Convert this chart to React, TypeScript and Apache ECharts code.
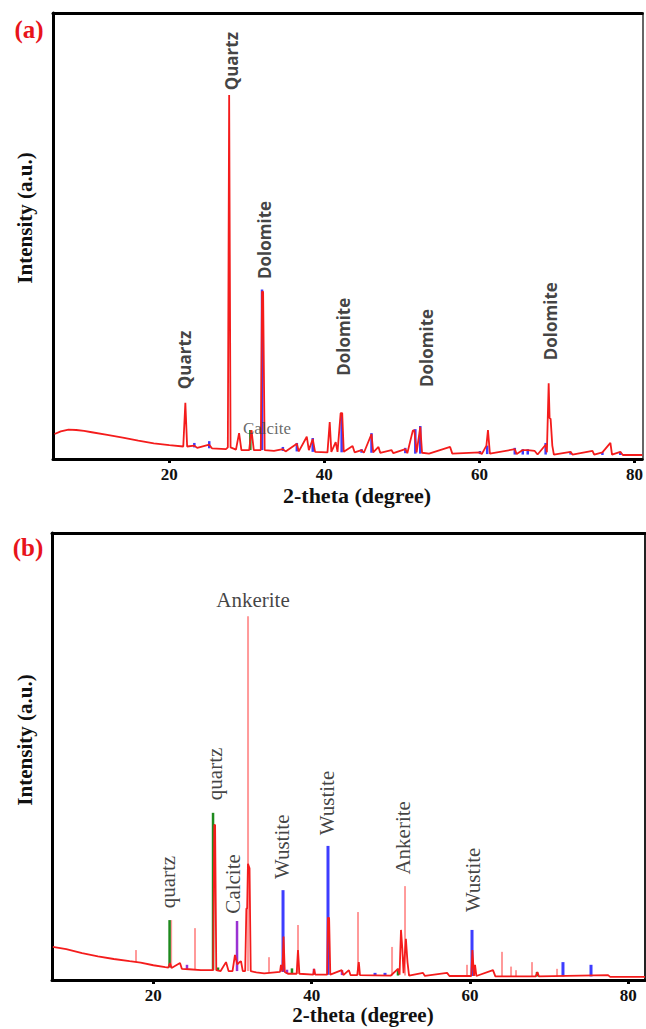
import React, { useEffect, useRef } from "react";
import * as echarts from "echarts";

// ---------- DATA ----------
const X_TICKS = [20, 40, 60, 80];

// Panel (a): measured pattern [2theta, intensity]
const curveA: number[][] = [
  [5.2, 5.6], [6, 6.2], [7, 6.6], [8, 6.5], [9, 6.3], [10, 6.0], [12, 5.4], [14, 4.8], [16, 4.1], [18, 3.5],
  [20, 3.1], [21.8, 2.8], [22.07, 12.6], [22.3, 2.8], [23.23, 3.0], [23.6, 2.5], [25.15, 3.2], [25.5, 2.4],
  [27.3, 2.2], [27.55, 2.6], [27.72, 81.6], [27.9, 2.6], [28.6, 2.1], [29.0, 5.8], [29.3, 2.0], [30.3, 2.0],
  [30.6, 6.5], [30.9, 2.0], [31.8, 2.0], [31.96, 37.5], [32.1, 37.5], [32.3, 2.0], [33.5, 1.8], [34.65, 2.2],
  [35, 1.7], [36.45, 3.4], [36.7, 1.7], [37.73, 5.0], [38.0, 2.0], [38.5, 4.5], [38.8, 1.6], [40.4, 1.5],
  [40.69, 8.3], [40.9, 1.6], [41.46, 3.8], [41.7, 1.6], [42.1, 10.3], [42.3, 10.3], [42.5, 1.6], [43.64, 2.9],
  [43.9, 1.5], [44.8, 2.0], [45.1, 1.4], [46.08, 5.6], [46.3, 1.5], [46.98, 2.7], [47.2, 1.4], [48.65, 2.0],
  [48.9, 1.3], [50.44, 2.2], [50.7, 1.3], [51.4, 6.3], [51.6, 6.5], [51.9, 1.5], [52.37, 7.2], [52.6, 1.4],
  [53.5, 1.2], [56.22, 2.7], [56.5, 1.2], [60.07, 1.5], [60.3, 1.1], [60.9, 3.0], [61.1, 6.5], [61.35, 1.2],
  [64.56, 2.2], [64.8, 1.1], [65.59, 2.0], [66.23, 2.0], [67.13, 1.8], [67.5, 1.0], [68.54, 3.2], [68.7, 1.5],
  [68.93, 17], [69.05, 9.2], [69.18, 9.0], [69.4, 3.0], [69.6, 1.0], [71.75, 1.6], [72, 1.0], [74.58, 1.8],
  [74.8, 1.0], [75.86, 1.5], [76.89, 3.6], [77.1, 1.0], [78.17, 1.6], [78.5, 0.9], [81, 0.9],
];
// Panel (a) reference sticks [2theta, base, top]
const blueSticksA: number[][] = [
  [23.23, 2.6, 3.6], [25.15, 2.4, 4.0], [31.96, 2.0, 38], [34.65, 1.8, 2.7], [36.45, 1.7, 3.6], [38.5, 1.6, 4.7],
  [42.23, 1.5, 10.3], [44.8, 1.4, 2.2], [46.08, 1.4, 5.8], [50.44, 1.3, 2.5], [51.73, 1.2, 6.7], [52.37, 1.2, 7.4],
  [60.07, 1.1, 1.8], [61.0, 1.1, 3.0], [64.56, 1.0, 2.5], [65.59, 1.0, 2.2], [66.23, 1.0, 2.2], [68.54, 1.0, 3.6],
  [71.75, 1.0, 1.6], [75.86, 0.9, 1.5], [78.17, 0.9, 1.6],
];
const greenSticksA: number[][] = [[30.45, 2.0, 6.5]];

// Panel (b): measured pattern
const curveB: number[][] = [
  [7.3, 7.4], [9, 6.9], [11, 6.0], [13, 5.3], [15, 4.7], [17, 4.2], [18.4, 3.9], [20, 3.3], [21.5, 2.9],
  [21.9, 2.8], [22.1, 3.8], [22.3, 2.7], [23.37, 3.8], [23.6, 2.5], [24.5, 2.4], [26, 2.2], [27.55, 2.2],
  [27.7, 34.7], [27.8, 34.7], [27.95, 2.2], [28.5, 2.0], [29.18, 4.0], [29.5, 2.0], [30.0, 2.0], [30.31, 5.6],
  [30.6, 3.5], [30.9, 4.0], [31.07, 4.2], [31.3, 2.0], [31.6, 2.0], [31.75, 16], [31.85, 16], [31.95, 26],
  [32.15, 25], [32.3, 2.0], [33, 1.7], [34, 1.5], [36.0, 1.8], [36.12, 3.4], [36.3, 1.9], [36.45, 9.7],
  [36.6, 1.8], [37, 1.4], [38.1, 1.4], [38.27, 6.7], [38.45, 1.4], [40.2, 1.2], [40.3, 2.5], [40.45, 1.2],
  [41.95, 1.2], [42.05, 13.9], [42.2, 13.9], [42.35, 1.2], [43.8, 2.2], [44, 1.1], [44.7, 2.2], [44.9, 1.1],
  [45.75, 1.1], [45.95, 4.0], [46.1, 1.1], [50, 1.0], [50.9, 2.5], [51.1, 1.2], [51.28, 11.2], [51.45, 7.0],
  [51.6, 1.5], [51.9, 9.2], [52.1, 4.0], [52.3, 1.0], [54.06, 1.6], [54.3, 0.9], [57.1, 1.6], [57.4, 0.9],
  [60.15, 0.9], [60.3, 6.7], [60.5, 0.9], [60.63, 3.4], [60.8, 0.9], [62.9, 2.2], [63.2, 0.8], [68.3, 0.8],
  [68.5, 1.8], [68.7, 0.8], [77.43, 1.1], [77.7, 0.7], [82.1, 0.7],
];
const pinkSticksB: number[][] = [
  [17.81, 4.0, 6.7], [22.25, 2.8, 13.4], [25.26, 2.3, 11.6], [31.96, 2.0, 81.4], [34.61, 1.6, 5.1],
  [38.27, 1.4, 12.3], [42.06, 1.2, 15.0], [45.85, 1.1, 15.2], [50.15, 1.0, 7.4], [51.79, 1.0, 21.0],
  [59.62, 0.9, 3.4], [64.04, 0.8, 6.3], [65.18, 0.8, 3.0], [65.81, 0.8, 2.2], [67.83, 0.8, 4.0], [70.99, 0.8, 2.5],
];
const greenSticksB: number[][] = [
  [22.05, 2.8, 13.4], [27.54, 2.2, 37.4], [28.17, 2.0, 2.8], [37.51, 1.4, 2.6], [50.9, 1.0, 2.5], [68.46, 0.8, 1.8],
];
const purpleSticksB: number[][] = [
  [24.25, 2.4, 3.4], [30.57, 2.0, 13.2], [36.88, 1.4, 2.3], [40.29, 1.2, 2.5], [43.83, 1.1, 2.2],
];
const blueSticksB: number[][] = [
  [36.38, 1.8, 20.1], [42.06, 1.2, 30.0], [48.0, 1.0, 1.6], [49.26, 1.0, 1.6], [60.25, 0.9, 11.2],
  [71.74, 0.8, 4.0], [75.28, 0.8, 3.4],
];

// Phase annotations [name, 2theta, intensity]
const labelsVertA = [
  { name: "Quartz", value: [27.98, 89.2] },
  { name: "Quartz", value: [21.94, 22.2] },
  { name: "Dolomite", value: [32.34, 49.1] },
  { name: "Dolomite", value: [42.48, 27.4] },
  { name: "Dolomite", value: [53.14, 24.9] },
  { name: "Dolomite", value: [69.19, 30.9] },
];
const labelsHorA = [{ name: "Calcite", value: [32.6, 6.95] }];
const labelsVertB = [
  { name: "quartz", value: [21.85, 21.9] },
  { name: "quartz", value: [27.79, 46.1] },
  { name: "Calcite", value: [30.06, 21.5] },
  { name: "Wustite", value: [36.25, 29.8] },
  { name: "Wustite", value: [41.94, 39.6] },
  { name: "Ankerite", value: [51.53, 31.8] },
  { name: "Wustite", value: [60.38, 22.4] },
];
const labelsHorB = [{ name: "Ankerite", value: [32.59, 85.0] }];

// ---------- STYLE ----------
const SERIF = '"Liberation Serif", "Times New Roman", serif';
const RED = "#f41c1c";
const PINK = "#ff9a9a";
const BLUE = "#3d3dff";
const GREEN = "#1e8a1e";
const PURPLE = "#9a32d2";

function sticks(data: number[][], color: string, xi: number, yi: number, width = 2.5) {
  return {
    type: "custom",
    xAxisIndex: xi,
    yAxisIndex: yi,
    data,
    encode: { x: 0, y: [1, 2] },
    z: 2,
    renderItem: (_p: any, api: any) => {
      const a = api.coord([api.value(0), api.value(1)]);
      const b = api.coord([api.value(0), api.value(2)]);
      return {
        type: "line",
        shape: { x1: a[0], y1: a[1], x2: b[0], y2: b[1] },
        style: { stroke: color, lineWidth: width },
      };
    },
  };
}

function labelSeries(data: any[], xi: number, yi: number, rotate: number, font: any) {
  return {
    type: "scatter",
    xAxisIndex: xi,
    yAxisIndex: yi,
    data,
    symbolSize: 1,
    itemStyle: { color: "transparent" },
    z: 5,
    label: {
      show: true,
      position: "inside",
      formatter: "{b}",
      rotate,
      align: "center",
      verticalAlign: "middle",
      ...font,
    },
  };
}

function axesFor(grid: number, min: number, max: number, rightColor: string) {
  const xs = [
    {
      gridIndex: grid, type: "value", min, max, position: "bottom",
      axisLine: { show: true, onZero: false, lineStyle: { color: "#000", width: 3 } },
      axisTick: { show: true, customValues: X_TICKS, length: 4, lineStyle: { color: "#000", width: 3 } },
      axisLabel: { customValues: X_TICKS, fontFamily: SERIF, fontWeight: "bold", fontSize: 17, color: "#111", margin: 7 },
      splitLine: { show: false },
    },
    {
      gridIndex: grid, type: "value", min, max, position: "top",
      axisLine: { show: true, onZero: false, lineStyle: { color: "#000", width: 3 } },
      axisTick: { show: false }, axisLabel: { show: false }, splitLine: { show: false },
    },
  ];
  const ys = [
    {
      gridIndex: grid, type: "value", min: 0, max: 100, position: "left",
      axisLine: { show: true, onZero: false, lineStyle: { color: "#000", width: 3 } },
      axisTick: { show: false }, axisLabel: { show: false }, splitLine: { show: false },
    },
    {
      gridIndex: grid, type: "value", min: 0, max: 100, position: "right",
      axisLine: { show: true, onZero: false, lineStyle: { color: rightColor, width: 2 } },
      axisTick: { show: false }, axisLabel: { show: false }, splitLine: { show: false },
    },
  ];
  return { xs, ys };
}

export default function App() {
  const ref = useRef<HTMLDivElement>(null);
  useEffect(() => {
    if (!ref.current) return;
    const chart = echarts.init(ref.current, undefined, { renderer: "svg" });
    const a = axesFor(0, 5, 81, "#666");
    const b = axesFor(1, 7.2, 82.1, "#222");
    const sansBold = { fontFamily: '"Open Sans", sans-serif', fontWeight: "bold", fontSize: 17, color: "#111" };
    const serifNorm = { fontFamily: SERIF, fontWeight: "normal", fontSize: 21, color: "#111" };
    chart.setOption({
      animation: false,
      backgroundColor: "#fff",
      grid: [
        { left: 53, top: 13, width: 592, height: 446 },
        { left: 52, top: 533, width: 593, height: 447 },
      ],
      xAxis: [...a.xs, ...b.xs],
      yAxis: [...a.ys, ...b.ys],
      series: [
        sticks(blueSticksA, BLUE, 0, 0),
        sticks(greenSticksA, GREEN, 0, 0),
        {
          type: "line", xAxisIndex: 0, yAxisIndex: 0, data: curveA, showSymbol: false, z: 3,
          lineStyle: { color: RED, width: 1.8 },
        },
        labelSeries(labelsVertA, 0, 0, 90, sansBold),
        labelSeries(labelsHorA, 0, 0, 0, { fontFamily: SERIF, fontSize: 17, color: "#444" }),

        sticks(pinkSticksB, PINK, 2, 2, 2),
        sticks(greenSticksB, GREEN, 2, 2),
        sticks(purpleSticksB, PURPLE, 2, 2),
        sticks(blueSticksB, BLUE, 2, 2, 3),
        {
          type: "line", xAxisIndex: 2, yAxisIndex: 2, data: curveB, showSymbol: false, z: 3,
          lineStyle: { color: RED, width: 1.8 },
        },
        labelSeries(labelsVertB, 2, 2, 90, serifNorm),
        labelSeries(labelsHorB, 2, 2, 0, serifNorm),
      ],
      graphic: [
        { type: "text", x: 29, y: 29, style: { text: "(a)", align: "center", verticalAlign: "middle", font: `bold 25px ${SERIF}`, fill: "#e8141b" } },
        { type: "text", x: 28, y: 547, style: { text: "(b)", align: "center", verticalAlign: "middle", font: `bold 25px ${SERIF}`, fill: "#e8141b" } },
        { type: "text", x: 25, y: 218, rotation: Math.PI / 2, style: { text: "Intensity (a.u.)", align: "center", verticalAlign: "middle", font: `bold 21px ${SERIF}`, fill: "#111" } },
        { type: "text", x: 25, y: 740, rotation: Math.PI / 2, style: { text: "Intensity (a.u.)", align: "center", verticalAlign: "middle", font: `bold 21px ${SERIF}`, fill: "#111" } },
        { type: "text", x: 357, y: 495, style: { text: "2-theta (degree)", align: "center", verticalAlign: "middle", font: `bold 22px ${SERIF}`, fill: "#111" } },
        { type: "text", x: 363, y: 1015, style: { text: "2-theta (degree)", align: "center", verticalAlign: "middle", font: `bold 21px ${SERIF}`, fill: "#111" } },
      ],
    });
    return () => chart.dispose();
  }, []);
  return <div ref={ref} style={{ position: "fixed", left: 0, top: 0, width: 646, height: 1029 }} />;
}
